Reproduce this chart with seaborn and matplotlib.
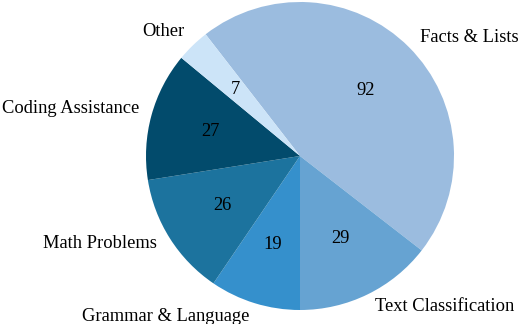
import matplotlib
matplotlib.use("Agg")
import matplotlib.pyplot as plt
import seaborn as sns

# Slice data, clockwise from the big slice
categories = ["Facts & Lists", "Text Classification", "Grammar & Language",
              "Math Problems", "Coding Assistance", "Other"]
counts = [92, 29, 19, 26, 27, 7]
colors = ["#9bbcdf", "#66a3d2", "#3590cc", "#1c739e", "#024b6c", "#cce4f8"]

# outside label spots (pie units, radius = 1)
label_x = [1.10, 0.94, -0.87, -1.30, -1.49, -0.89]
label_y = [0.77, -0.98, -1.04, -0.57, 0.31, 0.81]

sns.set_theme(style="white")
plt.rcParams["font.family"] = ["Liberation Serif", "DejaVu Serif"]

fig = plt.figure(figsize=(5.2, 3.24), dpi=100)
ax = fig.add_axes([0, 0, 1, 1])

wedges, texts, autotexts = ax.pie(
    counts,
    labels=categories,
    colors=colors,
    startangle=127.8,
    counterclock=False,
    autopct=lambda p: f"{p * sum(counts) / 100:.0f}",
    pctdistance=0.6,
    wedgeprops={"linewidth": 0},
    textprops={"fontsize": 13.3, "color": "black"},
)

# move the category names to where they sit in the original
for t, x, y in zip(texts, label_x, label_y):
    t.set_position((x, y))
    t.set_ha("center")
    t.set_va("center")

ax.set_aspect("equal")
ax.set_xlim(-300 / 154, 220 / 154)
ax.set_ylim(-168 / 154, 156 / 154)
ax.axis("off")

fig.savefig("out.png", dpi=100)
